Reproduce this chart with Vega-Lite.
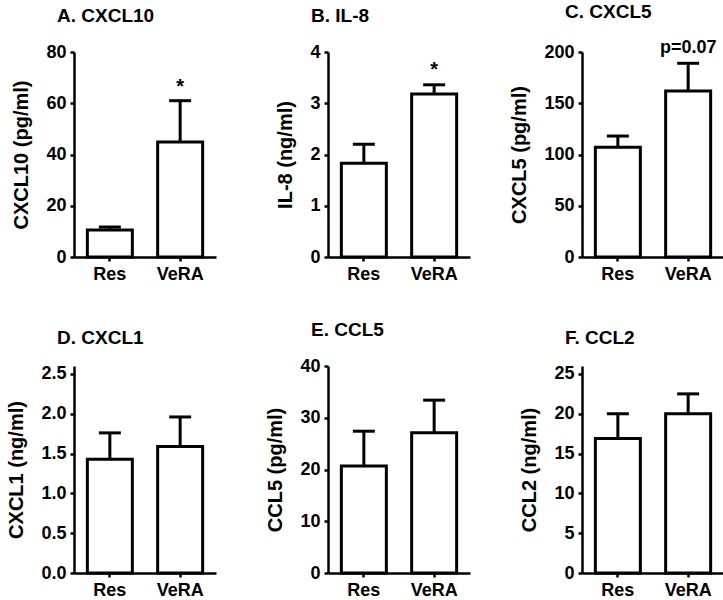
{
  "$schema": "https://vega.github.io/schema/vega-lite/v6.json",
  "background": "white",
  "padding": {"left": 6, "top": 3, "right": 1, "bottom": 0},
  "data": {"values": [
    {"panel": "A", "group": "Res", "value": 10.5, "err": 11.7},
    {"panel": "A", "group": "VeRA", "value": 44.9, "err": 61, "sig": "*"},
    {"panel": "B", "group": "Res", "value": 1.83, "err": 2.2},
    {"panel": "B", "group": "VeRA", "value": 3.18, "err": 3.36, "sig": "*"},
    {"panel": "C", "group": "Res", "value": 107, "err": 118},
    {"panel": "C", "group": "VeRA", "value": 162, "err": 189, "sig": "p=0.07"},
    {"panel": "D", "group": "Res", "value": 1.43, "err": 1.76},
    {"panel": "D", "group": "VeRA", "value": 1.59, "err": 1.96},
    {"panel": "E", "group": "Res", "value": 20.7, "err": 27.4},
    {"panel": "E", "group": "VeRA", "value": 27.1, "err": 33.4},
    {"panel": "F", "group": "Res", "value": 16.9, "err": 20.0},
    {"panel": "F", "group": "VeRA", "value": 20.0, "err": 22.5}
  ]},
  "columns": 3,
  "bounds": "flush",
  "spacing": {"row": 109, "column": 112},
  "concat": [
    {
      "title": {"text": "A. CXCL10"},
      "width": 142, "height": 205,
      "transform": [{"filter": "datum.panel === 'A'"}],
      "encoding": {"x": {"field": "group", "type": "nominal", "scale": {"paddingInner": 0.36, "paddingOuter": 0.19}, "axis": {"title": null}}},
      "layer": [
        {"mark": {"type": "rule", "strokeWidth": 3, "color": "black"}, "encoding": {"y": {"field": "value", "type": "quantitative"}, "y2": {"field": "err"}}},
        {"mark": {"type": "bar", "fill": "white", "stroke": "black", "strokeWidth": 3}, "encoding": {"y": {"field": "value", "type": "quantitative", "scale": {"domain": [0, 80]}, "axis": {"title": "CXCL10 (pg/ml)", "values": [0, 20, 40, 60, 80], "format": "d"}}}},
        {"mark": {"type": "tick", "orient": "horizontal", "size": 22, "thickness": 3, "color": "black", "opacity": 1}, "encoding": {"y": {"field": "err", "type": "quantitative"}}},
        {"transform": [{"filter": "datum.sig === '*'"}], "mark": {"type": "text", "dy": -8, "baseline": "alphabetic", "fontSize": 20, "fontWeight": "bold", "font": "Liberation Sans", "color": "black"}, "encoding": {"y": {"field": "err", "type": "quantitative"}, "text": {"field": "sig"}}}
      ]
    },
    {
      "title": {"text": "B. IL-8"},
      "width": 142, "height": 205,
      "transform": [{"filter": "datum.panel === 'B'"}],
      "encoding": {"x": {"field": "group", "type": "nominal", "scale": {"paddingInner": 0.36, "paddingOuter": 0.19}, "axis": {"title": null}}},
      "layer": [
        {"mark": {"type": "rule", "strokeWidth": 3, "color": "black"}, "encoding": {"y": {"field": "value", "type": "quantitative"}, "y2": {"field": "err"}}},
        {"mark": {"type": "bar", "fill": "white", "stroke": "black", "strokeWidth": 3}, "encoding": {"y": {"field": "value", "type": "quantitative", "scale": {"domain": [0, 4]}, "axis": {"title": "IL-8 (ng/ml)", "values": [0, 1, 2, 3, 4], "format": "d"}}}},
        {"mark": {"type": "tick", "orient": "horizontal", "size": 22, "thickness": 3, "color": "black", "opacity": 1}, "encoding": {"y": {"field": "err", "type": "quantitative"}}},
        {"transform": [{"filter": "datum.sig === '*'"}], "mark": {"type": "text", "dy": -9, "baseline": "alphabetic", "fontSize": 20, "fontWeight": "bold", "font": "Liberation Sans", "color": "black"}, "encoding": {"y": {"field": "err", "type": "quantitative"}, "text": {"field": "sig"}}}
      ]
    },
    {
      "title": {"text": "C. CXCL5"},
      "width": 142, "height": 205,
      "transform": [{"filter": "datum.panel === 'C'"}],
      "encoding": {"x": {"field": "group", "type": "nominal", "scale": {"paddingInner": 0.36, "paddingOuter": 0.19}, "axis": {"title": null}}},
      "layer": [
        {"mark": {"type": "rule", "strokeWidth": 3, "color": "black"}, "encoding": {"y": {"field": "value", "type": "quantitative"}, "y2": {"field": "err"}}},
        {"mark": {"type": "bar", "fill": "white", "stroke": "black", "strokeWidth": 3}, "encoding": {"y": {"field": "value", "type": "quantitative", "scale": {"domain": [0, 200]}, "axis": {"title": "CXCL5 (pg/ml)", "values": [0, 50, 100, 150, 200], "format": "d"}}}},
        {"mark": {"type": "tick", "orient": "horizontal", "size": 22, "thickness": 3, "color": "black", "opacity": 1}, "encoding": {"y": {"field": "err", "type": "quantitative"}}},
        {"transform": [{"filter": "datum.sig === 'p=0.07'"}], "mark": {"type": "text", "dy": -10, "baseline": "alphabetic", "fontSize": 18, "fontWeight": "bold", "font": "Liberation Sans", "color": "black"}, "encoding": {"y": {"field": "err", "type": "quantitative"}, "text": {"field": "sig"}}}
      ]
    },
    {
      "title": {"text": "D. CXCL1"},
      "width": 142, "height": 207,
      "transform": [{"filter": "datum.panel === 'D'"}],
      "encoding": {"x": {"field": "group", "type": "nominal", "scale": {"paddingInner": 0.36, "paddingOuter": 0.19}, "axis": {"title": null}}},
      "layer": [
        {"mark": {"type": "rule", "strokeWidth": 3, "color": "black"}, "encoding": {"y": {"field": "value", "type": "quantitative"}, "y2": {"field": "err"}}},
        {"mark": {"type": "bar", "fill": "white", "stroke": "black", "strokeWidth": 3}, "encoding": {"y": {"field": "value", "type": "quantitative", "scale": {"domain": [0, 2.5]}, "axis": {"title": "CXCL1 (ng/ml)", "values": [0, 0.5, 1, 1.5, 2, 2.5], "format": ".1f"}}}},
        {"mark": {"type": "tick", "orient": "horizontal", "size": 22, "thickness": 3, "color": "black", "opacity": 1}, "encoding": {"y": {"field": "err", "type": "quantitative"}}}
      ]
    },
    {
      "title": {"text": "E. CCL5"},
      "width": 142, "height": 207,
      "transform": [{"filter": "datum.panel === 'E'"}],
      "encoding": {"x": {"field": "group", "type": "nominal", "scale": {"paddingInner": 0.36, "paddingOuter": 0.19}, "axis": {"title": null}}},
      "layer": [
        {"mark": {"type": "rule", "strokeWidth": 3, "color": "black"}, "encoding": {"y": {"field": "value", "type": "quantitative"}, "y2": {"field": "err"}}},
        {"mark": {"type": "bar", "fill": "white", "stroke": "black", "strokeWidth": 3}, "encoding": {"y": {"field": "value", "type": "quantitative", "scale": {"domain": [0, 40]}, "axis": {"title": "CCL5 (pg/ml)", "values": [0, 10, 20, 30, 40], "format": "d"}}}},
        {"mark": {"type": "tick", "orient": "horizontal", "size": 22, "thickness": 3, "color": "black", "opacity": 1}, "encoding": {"y": {"field": "err", "type": "quantitative"}}}
      ]
    },
    {
      "title": {"text": "F. CCL2"},
      "width": 142, "height": 207,
      "transform": [{"filter": "datum.panel === 'F'"}],
      "encoding": {"x": {"field": "group", "type": "nominal", "scale": {"paddingInner": 0.36, "paddingOuter": 0.19}, "axis": {"title": null}}},
      "layer": [
        {"mark": {"type": "rule", "strokeWidth": 3, "color": "black"}, "encoding": {"y": {"field": "value", "type": "quantitative"}, "y2": {"field": "err"}}},
        {"mark": {"type": "bar", "fill": "white", "stroke": "black", "strokeWidth": 3}, "encoding": {"y": {"field": "value", "type": "quantitative", "scale": {"domain": [0, 25]}, "axis": {"title": "CCL2 (ng/ml)", "values": [0, 5, 10, 15, 20, 25], "format": "d"}}}},
        {"mark": {"type": "tick", "orient": "horizontal", "size": 22, "thickness": 3, "color": "black", "opacity": 1}, "encoding": {"y": {"field": "err", "type": "quantitative"}}}
      ]
    }
  ],
  "config": {
    "font": "Liberation Sans",
    "view": {"stroke": null},
    "title": {"anchor": "start", "frame": "group", "dx": -17, "fontSize": 19, "fontWeight": "bold", "color": "black", "baseline": "alphabetic", "offset": 17, "font": "Liberation Sans"},
    "axis": {
      "grid": false,
      "domainColor": "black", "domainWidth": 2.5,
      "tickColor": "black", "tickWidth": 2.5, "tickSize": 4,
      "labelFontSize": 18, "labelFontWeight": "bold", "labelColor": "black", "labelFont": "Liberation Sans",
      "titleFontSize": 20, "titleFontWeight": "bold", "titleColor": "black", "titleFont": "Liberation Sans"
    },
    "axisX": {"labelAngle": 0, "labelPadding": 4},
    "axisY": {"labelPadding": 4, "titlePadding": 14}
  }
}
